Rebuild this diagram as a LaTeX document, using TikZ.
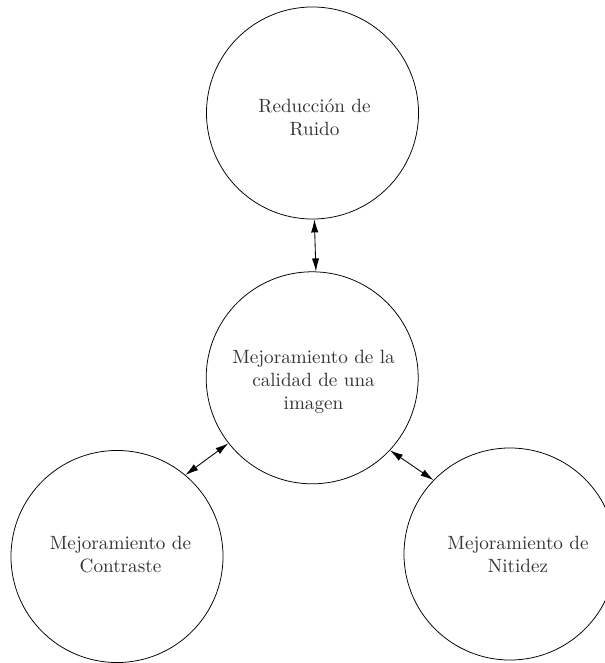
\documentclass[tikz,border=0pt]{standalone}
\usetikzlibrary{arrows.meta}
\begin{document}
% one unit = one pixel of a 605 x 663 sheet, y running downwards
\begin{tikzpicture}[x=0.5216pt,y=-0.5216pt,
  topic/.style={draw=black,circle,line width=0.4pt,minimum size=110.6pt,inner sep=0pt},
  caption/.style={align=center,text=black!80,inner sep=0pt,font=\normalsize},
  link/.style={{Latex[length=6.8pt,width=3.8pt]}-{Latex[length=6.8pt,width=3.8pt]},line width=0.45pt}]
  \useasboundingbox (0,0) rectangle (605,663);
  % central topic and its three satellites
  \node[topic] (center) at (312.2,377.8) {};
  \node[topic] (ruido) at (312.5,113) {};
  \node[topic] (contraste) at (117,556.5) {};
  \node[topic] (nitidez) at (510,554) {};
  % their captions
  \node[caption] (centerText) at (313.5,381.5) {Mejoramiento de la\\calidad de una\\imagen};
  \node[caption] (ruidoText) at (314.5,117.9) {Reducci\'on de\\Ruido};
  \node[caption] (contrasteText) at (120.5,554.2) {Mejoramiento de\\Contraste};
  \node[caption] (nitidezText) at (518,554.2) {Mejoramiento de\\Nitidez};
  % two-way links
  \draw[link] (ruido.-89) -- (center.88.9);
  \draw[link] (center.218.5) -- (contraste.50.8);
  \draw[link] (center.-43.4) -- (nitidez.136.2);
\end{tikzpicture}
\end{document}
